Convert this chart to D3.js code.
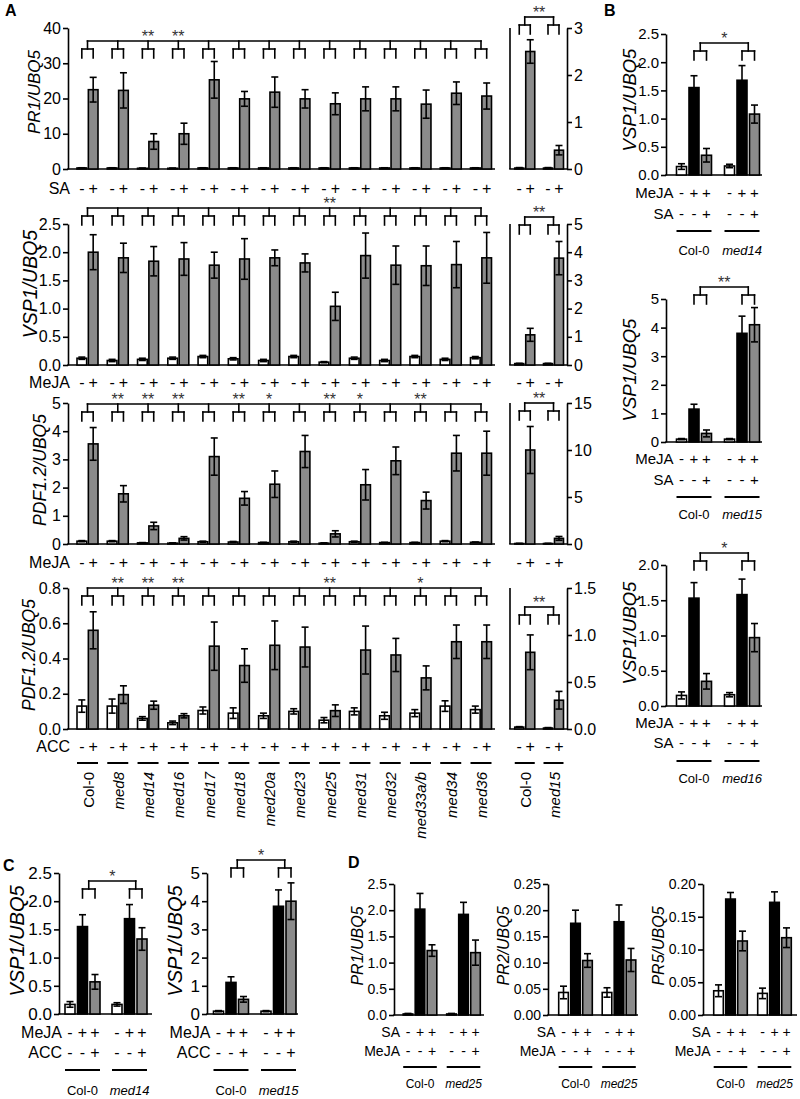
<!DOCTYPE html>
<html><head><meta charset="utf-8">
<script src="https://cdn.jsdelivr.net/npm/d3@7/dist/d3.min.js"></script>
<style>
body{margin:0;background:#fff;}
svg text{font-family:"Liberation Sans",Arial,Helvetica,sans-serif;fill:#000;}
</style></head><body>
<svg id="chart" width="800" height="1099"></svg>
<script>
// ---------------- DATA ----------------
const genotypesA = ["Col-0","med8","med14","med16","med17","med18","med20a","med23","med25","med31","med32","med33a/b","med34","med36"];
const genotypesSub = ["Col-0","med15"];

// Row 1: PR1/UBQ5, SA
const pr1Mock    = [0.3,0.3,0.2,0.2,0.3,0.3,0.3,0.3,0.3,0.3,0.3,0.3,0.3,0.3];
const pr1MockErr = [0.05,0.05,0.05,0.05,0.05,0.05,0.05,0.05,0.05,0.05,0.05,0.05,0.05,0.05];
const pr1SA      = [22.5,22.3,7.8,10.0,25.3,19.9,21.8,19.9,18.5,19.9,19.9,18.4,21.5,20.7];
const pr1SAErr   = [3.5,5.0,2.2,3.0,5.2,2.1,4.3,2.6,3.1,3.4,3.4,4.0,3.2,3.7];
const pr1Stars   = ["","","**","**","","","","","","","","","",""];
const pr1SubMock = [0.02,0.02], pr1SubMockErr = [0.01,0.01];
const pr1SubSA   = [2.5,0.4],   pr1SubSAErr   = [0.25,0.1];

// Row 2: VSP1/UBQ5, MeJA
const vspMock    = [0.12,0.08,0.1,0.12,0.15,0.11,0.08,0.15,0.05,0.12,0.08,0.15,0.1,0.13];
const vspMockErr = [0.02,0.02,0.02,0.02,0.02,0.02,0.02,0.02,0.01,0.02,0.02,0.02,0.02,0.02];
const vspMeJA    = [2.0,1.9,1.84,1.88,1.77,1.88,1.9,1.81,1.04,1.94,1.77,1.76,1.78,1.9];
const vspMeJAErr = [0.31,0.26,0.26,0.29,0.23,0.36,0.14,0.16,0.25,0.4,0.34,0.35,0.41,0.45];
const vspStars   = ["","","","","","","","","**","","","","",""];
const vspSubMock = [0.05,0.05], vspSubMockErr = [0.01,0.01];
const vspSubMeJA = [1.07,3.79], vspSubMeJAErr = [0.23,0.59];

// Row 3: PDF1.2/UBQ5, MeJA
const pdfMock    = [0.1,0.1,0.04,0.03,0.08,0.07,0.05,0.08,0.03,0.08,0.05,0.05,0.1,0.06];
const pdfMockErr = [0.02,0.02,0.01,0.01,0.02,0.02,0.01,0.02,0.01,0.02,0.01,0.01,0.02,0.01];
const pdfMeJA    = [3.55,1.78,0.64,0.2,3.1,1.62,2.12,3.28,0.36,2.1,2.95,1.54,3.22,3.22];
const pdfMeJAErr = [0.58,0.29,0.13,0.06,0.66,0.24,0.47,0.57,0.11,0.54,0.49,0.3,0.63,0.78];
const pdfStars   = ["","**","**","**","","**","*","","**","*","","**","",""];
const pdfSubMock = [0.05,0.05], pdfSubMockErr = [0.02,0.02];
const pdfSubMeJA = [10.0,0.6],  pdfSubMeJAErr = [2.5,0.2];

// Row 4: PDF1.2/UBQ5, ACC
const accMock    = [0.13,0.13,0.06,0.035,0.105,0.09,0.075,0.1,0.05,0.1,0.075,0.09,0.13,0.11];
const accMockErr = [0.035,0.04,0.01,0.01,0.02,0.03,0.015,0.015,0.015,0.02,0.02,0.02,0.03,0.02];
const accACC     = [0.56,0.195,0.135,0.075,0.47,0.36,0.475,0.465,0.104,0.448,0.42,0.29,0.495,0.495];
const accACCErr  = [0.105,0.05,0.023,0.012,0.137,0.095,0.138,0.113,0.033,0.136,0.094,0.068,0.095,0.095];
const accStars   = ["","**","**","**","","","","","**","","","*","",""];
const accSubMock = [0.02,0.01],   accSubMockErr = [0.005,0.005];
const accSubACC  = [0.816,0.306], accSubACCErr  = [0.185,0.094];

// Panel B (mock, MeJA, MeJA+SA)
const bMed14Col = [0.15,1.55,0.35], bMed14ColErr = [0.05,0.21,0.12];
const bMed14Mut = [0.16,1.68,1.08], bMed14MutErr = [0.03,0.26,0.16];
const bMed15Col = [0.1,1.15,0.3],   bMed15ColErr = [0.02,0.17,0.12];
const bMed15Mut = [0.1,3.8,4.1],    bMed15MutErr = [0.02,0.6,0.6];
const bMed16Col = [0.15,1.53,0.35], bMed16ColErr = [0.05,0.22,0.11];
const bMed16Mut = [0.16,1.58,0.97], bMed16MutErr = [0.03,0.22,0.2];
// Panel C (mock, MeJA, MeJA+ACC)
const cMed14Col = [0.17,1.55,0.57], cMed14ColErr = [0.05,0.21,0.13];
const cMed14Mut = [0.17,1.69,1.33], cMed14MutErr = [0.03,0.25,0.2];
const cMed15Col = [0.1,1.12,0.52],  cMed15ColErr = [0.02,0.2,0.1];
const cMed15Mut = [0.1,3.82,4.0],   cMed15MutErr = [0.02,0.58,0.65];
// Panel D (mock, SA, SA+MeJA)
const dPR1Col = [0.02,2.02,1.23],     dPR1ColErr = [0.01,0.3,0.11];
const dPR1Mut = [0.02,1.92,1.19],     dPR1MutErr = [0.01,0.23,0.24];
const dPR2Col = [0.043,0.175,0.104],  dPR2ColErr = [0.012,0.025,0.013];
const dPR2Mut = [0.043,0.178,0.105],  dPR2MutErr = [0.009,0.032,0.022];
const dPR5Col = [0.037,0.177,0.113],  dPR5ColErr = [0.009,0.01,0.015];
const dPR5Mut = [0.033,0.172,0.118],  dPR5MutErr = [0.008,0.016,0.015];

// ---------------- DRAW ----------------
const GRAY = "#8b8b8b", SW = 1.6;
const svg = d3.select("#chart");

function txt(g, x, y, s, o = {}) {
  const t = g.append("text").attr("x", x).attr("y", y).text(s)
    .attr("font-size", (o.fs || 15) + "px").attr("text-anchor", o.anchor || "middle");
  if (o.italic) t.attr("font-style", "italic");
  if (o.bold) t.attr("font-weight", "bold");
  if (o.fill) t.style("fill", o.fill);
  if (o.rotate) t.attr("transform", `rotate(-90,${x},${y})`);
  return t;
}
function ln(g, x1, y1, x2, y2, w = SW, cap = "butt") {
  g.append("line").attr("x1", x1).attr("y1", y1).attr("x2", x2).attr("y2", y2)
    .attr("stroke", "#000").attr("stroke-width", w).attr("stroke-linecap", cap);
}
function bar(g, cx, w, y, v, e, fill, capW = 7) {
  g.append("rect").attr("x", cx - w / 2).attr("y", y(v)).attr("width", w)
    .attr("height", Math.max(0, y(0) - y(v))).attr("fill", fill)
    .attr("stroke", "#000").attr("stroke-width", SW);
  if (e > 0) {
    const lo = Math.max(0, v - e), hi = v + e;
    ln(g, cx, y(lo), cx, y(hi));
    ln(g, cx - capW / 2, y(hi), cx + capW / 2, y(hi));
    if (v - e > 0) ln(g, cx - capW / 2, y(lo), cx + capW / 2, y(lo));
  }
}
function styleAxis(a, fs) {
  a.selectAll("path,line").attr("stroke", "#000").attr("stroke-width", SW);
  a.selectAll("text").style("font-size", fs + "px");
}
function bracket(g, stems, pairs, y0) {
  ln(g, stems[0], y0, stems[stems.length - 1], y0, SW, "square");
  stems.forEach((s, i) => {
    ln(g, s, y0, s, y0 + 8, SW, "square");
    ln(g, pairs[i][0], y0 + 8, pairs[i][1], y0 + 8, SW, "square");
    ln(g, pairs[i][0], y0 + 8, pairs[i][0], y0 + 17, SW, "square");
    ln(g, pairs[i][1], y0 + 8, pairs[i][1], y0 + 17, SW, "square");
  });
}

// Panel A rows
function rowA(c) {
  const g = svg.append("g");
  const y = d3.scaleLinear().domain([0, c.max]).range([c.yBot, c.yTop]);
  const xg = d3.scalePoint().domain(genotypesA).range([87.5, 481]);
  const xi = d3.scaleBand().domain(["-", "+"]).range([-10.5, 10.5]).paddingInner(0.15);
  const bw = xi.bandwidth();
  const cxOf = (gt, s) => xg(gt) + xi(s) + bw / 2;
  const ax = g.append("g").attr("transform", "translate(68,0)")
    .call(d3.axisLeft(y).tickValues(c.ticks).tickFormat(c.fmt).tickSize(5).tickSizeOuter(0).tickPadding(2));
  styleAxis(ax, 16);
  ln(g, 68 - SW / 2, y(0), 495, y(0));
  genotypesA.forEach((gt, i) => {
    bar(g, cxOf(gt, "-"), bw, y, c.mock[i], c.mockErr[i], "#fff");
    bar(g, cxOf(gt, "+"), bw, y, c.trt[i], c.trtErr[i], GRAY);
    txt(g, cxOf(gt, "-"), c.signY, "-", { fs: 16 });
    txt(g, cxOf(gt, "+"), c.signY, "+", { fs: 16 });
    if (c.stars[i]) txt(g, xg(gt), c.bracketY + 1, c.stars[i], { fs: 16, fill: "#333" });
  });
  txt(g, 70, c.signY, c.label, { fs: 16, anchor: "end" });
  bracket(g, genotypesA.map(gt => xg(gt)), genotypesA.map(gt => [cxOf(gt, "-"), cxOf(gt, "+")]), c.bracketY);
  txt(g, c.titleX, c.titleY, c.title, { fs: c.titleFs, italic: true, rotate: true });

  // sub panel (Col-0 vs med15)
  const ys = d3.scaleLinear().domain([0, c.subMax]).range([c.yBot, c.yTop]);
  const xs = d3.scalePoint().domain(genotypesSub).range([524.75, 553.5]);
  const xsi = d3.scaleBand().domain(["-", "+"]).range([-10, 10]).paddingInner(0.18);
  const sbw = xsi.bandwidth();
  const scx = (gt, s) => xs(gt) + xsi(s) + sbw / 2;
  const axr = g.append("g").attr("transform", "translate(567,0)")
    .call(d3.axisRight(ys).tickValues(c.subTicks).tickFormat(c.subFmt).tickSize(5).tickSizeOuter(0).tickPadding(2));
  styleAxis(axr, 16);
  ln(g, 510, ys(c.subMax), 510, ys(0));
  ln(g, 510 - SW / 2, ys(0), 567, ys(0));
  genotypesSub.forEach((gt, i) => {
    bar(g, scx(gt, "-"), sbw, ys, c.subMock[i], c.subMockErr[i], "#fff");
    bar(g, scx(gt, "+"), sbw, ys, c.subTrt[i], c.subTrtErr[i], GRAY);
    txt(g, scx(gt, "-"), c.signY, "-", { fs: 16 });
    txt(g, scx(gt, "+"), c.signY, "+", { fs: 16 });
  });
  const sst = genotypesSub.map(gt => xs(gt));
  bracket(g, sst, genotypesSub.map(gt => [scx(gt, "-"), scx(gt, "+")]), c.subBracketY);
  txt(g, (sst[0] + sst[1]) / 2, c.subBracketY + 1, "**", { fs: 16, fill: "#333" });

  if (c.xLabels) {
    genotypesA.forEach(gt => {
      ln(g, cxOf(gt, "-") - bw / 2, c.underY, cxOf(gt, "+") + bw / 2, c.underY, 2);
      txt(g, xg(gt) + 6, 772, gt, { fs: 15, anchor: "end", rotate: true, italic: gt !== "Col-0" });
    });
    genotypesSub.forEach(gt => {
      ln(g, scx(gt, "-") - sbw / 2, c.underY, scx(gt, "+") + sbw / 2, c.underY, 2);
      txt(g, xs(gt) + 6, 772, gt, { fs: 15, anchor: "end", rotate: true, italic: gt !== "Col-0" });
    });
  }
}

const f1 = d3.format(".1f"), fd = d3.format("d"), f2 = d3.format(".2f");

rowA({ max: 40, yTop: 28, yBot: 169, ticks: [0, 10, 20, 30, 40], fmt: fd,
  mock: pr1Mock, mockErr: pr1MockErr, trt: pr1SA, trtErr: pr1SAErr, stars: pr1Stars,
  signY: 194, label: "SA", bracketY: 41, title: "PR1/UBQ5", titleFs: 17, titleX: 40, titleY: 92,
  subMax: 3, subTicks: [0, 1, 2, 3], subFmt: fd, subMock: pr1SubMock, subMockErr: pr1SubMockErr,
  subTrt: pr1SubSA, subTrtErr: pr1SubSAErr, subBracketY: 17 });
rowA({ max: 2.5, yTop: 224, yBot: 365, ticks: [0, 0.5, 1, 1.5, 2, 2.5], fmt: f1,
  mock: vspMock, mockErr: vspMockErr, trt: vspMeJA, trtErr: vspMeJAErr, stars: vspStars,
  signY: 388, label: "MeJA", bracketY: 208, title: "VSP1/UBQ5", titleFs: 19.5, titleX: 37, titleY: 284,
  subMax: 5, subTicks: [0, 1, 2, 3, 4, 5], subFmt: fd, subMock: vspSubMock, subMockErr: vspSubMockErr,
  subTrt: vspSubMeJA, subTrtErr: vspSubMeJAErr, subBracketY: 217 });
rowA({ max: 5, yTop: 403, yBot: 544, ticks: [0, 1, 2, 3, 4, 5], fmt: fd,
  mock: pdfMock, mockErr: pdfMockErr, trt: pdfMeJA, trtErr: pdfMeJAErr, stars: pdfStars,
  signY: 568, label: "MeJA", bracketY: 404, title: "PDF1.2/UBQ5", titleFs: 17.5, titleX: 46, titleY: 470,
  subMax: 15, subTicks: [0, 5, 10, 15], subFmt: fd, subMock: pdfSubMock, subMockErr: pdfSubMockErr,
  subTrt: pdfSubMeJA, subTrtErr: pdfSubMeJAErr, subBracketY: 403 });
rowA({ max: 0.8, yTop: 588, yBot: 729, ticks: [0, 0.2, 0.4, 0.6, 0.8], fmt: f1,
  mock: accMock, mockErr: accMockErr, trt: accACC, trtErr: accACCErr, stars: accStars,
  signY: 752, label: "ACC", bracketY: 588, title: "PDF1.2/UBQ5", titleFs: 17.5, titleX: 35, titleY: 655,
  subMax: 1.5, subTicks: [0, 0.5, 1, 1.5], subFmt: f1, subMock: accSubMock, subMockErr: accSubMockErr,
  subTrt: accSubACC, subTrtErr: accSubACCErr, subBracketY: 607, xLabels: true, underY: 763 });

// Small three-bar panels
function smallPanel(c) {
  const g = svg.append("g");
  const y = d3.scaleLinear().domain([0, c.max]).range([c.yBot, c.yTop]);
  const groups = c.groups;
  const xg = d3.scalePoint().domain(groups).range(c.centers);
  const xi = d3.scaleBand().domain([0, 1, 2]).range([-c.half, c.half]).paddingInner(0.2).paddingOuter(0.1);
  const bw = xi.bandwidth();
  const cx = (gt, k) => xg(gt) + xi(k) + bw / 2;
  const fills = ["#fff", "#000", GRAY];
  const ax = g.append("g").attr("transform", `translate(${c.axisX},0)`)
    .call(d3.axisLeft(y).tickValues(c.ticks).tickFormat(c.fmt).tickSize(5).tickSizeOuter(0).tickPadding(2));
  styleAxis(ax, c.tickFs);
  ln(g, c.axisX - SW / 2, y(0), c.xEnd, y(0));
  groups.forEach((gt, i) => {
    [0, 1, 2].forEach(k => bar(g, cx(gt, k), bw, y, c.vals[i][k], c.errs[i][k], fills[k]));
    c.rows.forEach(r => [0, 1, 2].forEach(k => txt(g, cx(gt, k), r.y, r.signs[k], { fs: c.signFs })));
    ln(g, cx(gt, 0) - bw / 2, c.underY, cx(gt, 2) + bw / 2, c.underY, 2);
    txt(g, xg(gt), c.labelY, gt, { fs: c.labelFs, italic: gt !== "Col-0" });
  });
  c.rows.forEach(r => txt(g, cx(groups[0], 0) - 8, r.y, r.label, { fs: c.signFs, anchor: "end" }));
  if (c.star) {
    const stems = groups.map(gt => (cx(gt, 1) + cx(gt, 2)) / 2);
    bracket(g, stems, groups.map(gt => [cx(gt, 1), cx(gt, 2)]), c.bracketY);
    txt(g, (stems[0] + stems[1]) / 2, c.bracketY + 1, c.star, { fs: 16, fill: "#333" });
  }
  txt(g, c.titleX, c.titleY, c.title, { fs: c.titleFs, italic: true, rotate: true });
}

const rowsB = (y1, y2) => [{ label: "MeJA", signs: ["-", "+", "+"], y: y1 }, { label: "SA", signs: ["-", "-", "+"], y: y2 }];
const rowsC = [{ label: "MeJA", signs: ["-", "+", "+"], y: 1038 }, { label: "ACC", signs: ["-", "-", "+"], y: 1058 }];
const rowsD = [{ label: "SA", signs: ["-", "+", "+"], y: 1037 }, { label: "MeJA", signs: ["-", "-", "+"], y: 1056 }];

const bBase = { axisX: 666, xEnd: 762, centers: [694, 742], half: 18.75, tickFs: 15, signFs: 15, labelFs: 13,
  title: "VSP1/UBQ5", titleFs: 18.5, titleX: 636 };
smallPanel(Object.assign({}, bBase, { groups: ["Col-0", "med14"], vals: [bMed14Col, bMed14Mut], errs: [bMed14ColErr, bMed14MutErr],
  max: 2.5, yTop: 34, yBot: 175, ticks: [0, 0.5, 1, 1.5, 2, 2.5], fmt: f1, rows: rowsB(198, 219),
  underY: 231, labelY: 255, bracketY: 43, star: "*", titleY: 100 }));
smallPanel(Object.assign({}, bBase, { groups: ["Col-0", "med15"], vals: [bMed15Col, bMed15Mut], errs: [bMed15ColErr, bMed15MutErr],
  max: 5, yTop: 299, yBot: 442, ticks: [0, 1, 2, 3, 4, 5], fmt: fd, rows: rowsB(464, 485),
  underY: 497, labelY: 519, bracketY: 287, star: "**", titleY: 370 }));
smallPanel(Object.assign({}, bBase, { groups: ["Col-0", "med16"], vals: [bMed16Col, bMed16Mut], errs: [bMed16ColErr, bMed16MutErr],
  max: 2.0, yTop: 565, yBot: 706, ticks: [0, 0.5, 1, 1.5, 2], fmt: f1, rows: rowsB(728, 748),
  underY: 761, labelY: 783, bracketY: 553, star: "*", titleY: 633 }));

const cBase = { half: 18.75, tickFs: 17, signFs: 16, labelFs: 13, title: "VSP1/UBQ5", titleFs: 20,
  yTop: 873, yBot: 1014, rows: rowsC, underY: 1070, labelY: 1095, titleY: 941 };
smallPanel(Object.assign({}, cBase, { groups: ["Col-0", "med14"], vals: [cMed14Col, cMed14Mut], errs: [cMed14ColErr, cMed14MutErr],
  axisX: 59, xEnd: 152, centers: [82.5, 129.5], max: 2.5, ticks: [0, 0.5, 1, 1.5, 2, 2.5], fmt: f1,
  bracketY: 881, star: "*", titleX: 24 }));
smallPanel(Object.assign({}, cBase, { groups: ["Col-0", "med15"], vals: [cMed15Col, cMed15Mut], errs: [cMed15ColErr, cMed15MutErr],
  axisX: 207, xEnd: 298, centers: [231, 278.5], max: 5, ticks: [0, 1, 2, 3, 4, 5], fmt: fd,
  bracketY: 860, star: "*", titleX: 182 }));

const dBase = { half: 18, tickFs: 14, signFs: 14, labelFs: 12, titleFs: 16,
  yTop: 884, yBot: 1015, rows: rowsD, underY: 1067, labelY: 1088, titleY: 946, groups: ["Col-0", "med25"] };
smallPanel(Object.assign({}, dBase, { vals: [dPR1Col, dPR1Mut], errs: [dPR1ColErr, dPR1MutErr],
  axisX: 394, xEnd: 484, centers: [420, 463.5], max: 2.5, ticks: [0, 0.5, 1, 1.5, 2, 2.5], fmt: f1,
  title: "PR1/UBQ5", titleX: 363 }));
smallPanel(Object.assign({}, dBase, { vals: [dPR2Col, dPR2Mut], errs: [dPR2ColErr, dPR2MutErr],
  axisX: 548, xEnd: 638, centers: [575.5, 619], max: 0.25, ticks: [0, 0.05, 0.1, 0.15, 0.2, 0.25], fmt: f2,
  title: "PR2/UBQ5", titleX: 509 }));
smallPanel(Object.assign({}, dBase, { vals: [dPR5Col, dPR5Mut], errs: [dPR5ColErr, dPR5MutErr],
  axisX: 703, xEnd: 797, centers: [730.5, 774.5], max: 0.2, ticks: [0, 0.05, 0.1, 0.15, 0.2], fmt: f2,
  title: "PR5/UBQ5", titleX: 664 }));

// Panel letters
txt(svg, 5, 16, "A", { fs: 16, bold: true, anchor: "start" });
txt(svg, 604, 16, "B", { fs: 16, bold: true, anchor: "start" });
txt(svg, 3, 871, "C", { fs: 16, bold: true, anchor: "start" });
txt(svg, 348, 868, "D", { fs: 16, bold: true, anchor: "start" });
</script>
</body></html>
